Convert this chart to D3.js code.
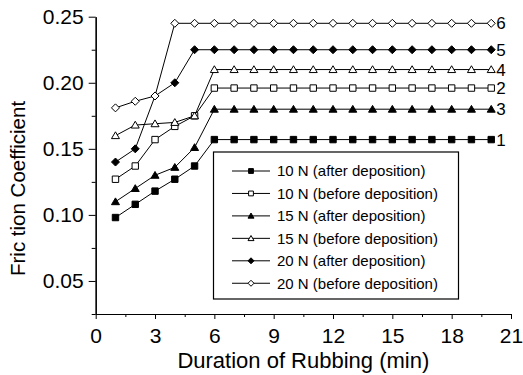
<!DOCTYPE html>
<html>
<head>
<meta charset="utf-8">
<script src="https://cdn.jsdelivr.net/npm/d3@7"></script>
<style>
  html, body { margin: 0; padding: 0; background: #fff; }
  svg { display: block; font-family: "Liberation Sans", Arial, sans-serif; }
</style>
</head>
<body>
<svg id="chart" width="523" height="375"></svg>
<script>
// ---- data ----
const minutes = [1, 2, 3, 4, 5, 6, 7, 8, 9, 10, 11, 12, 13, 14, 15, 16, 17, 18, 19, 20];
const after10N  = [0.098, 0.108, 0.118, 0.127, 0.137, 0.157, 0.157, 0.157, 0.157, 0.157, 0.157, 0.157, 0.157, 0.157, 0.157, 0.157, 0.157, 0.157, 0.157, 0.157];
const before10N = [0.127, 0.137, 0.157, 0.167, 0.175, 0.196, 0.196, 0.196, 0.196, 0.196, 0.196, 0.196, 0.196, 0.196, 0.196, 0.196, 0.196, 0.196, 0.196, 0.196];
const after15N  = [0.110, 0.120, 0.130, 0.136, 0.151, 0.180, 0.180, 0.180, 0.180, 0.180, 0.180, 0.180, 0.180, 0.180, 0.180, 0.180, 0.180, 0.180, 0.180, 0.180];
const before15N = [0.160, 0.168, 0.169, 0.170, 0.175, 0.210, 0.210, 0.210, 0.210, 0.210, 0.210, 0.210, 0.210, 0.210, 0.210, 0.210, 0.210, 0.210, 0.210, 0.210];
const after20N  = [0.140, 0.150, 0.190, 0.200, 0.225, 0.225, 0.225, 0.225, 0.225, 0.225, 0.225, 0.225, 0.225, 0.225, 0.225, 0.225, 0.225, 0.225, 0.225, 0.225];
const before20N = [0.181, 0.186, 0.190, 0.245, 0.245, 0.245, 0.245, 0.245, 0.245, 0.245, 0.245, 0.245, 0.245, 0.245, 0.245, 0.245, 0.245, 0.245, 0.245, 0.245];

const seriesNames = ["10 N (after deposition)", "10 N (before deposition)", "15 N (after deposition)",
                     "15 N (before deposition)", "20 N (after deposition)", "20 N (before deposition)"];
const seriesValues = [after10N, before10N, after15N, before15N, after20N, before20N];
const seriesMarkers = ["square", "square", "triangle", "triangle", "diamond", "diamond"];
const seriesFilled = [true, false, true, false, true, false];
const endLabels = ["1", "2", "3", "4", "5", "6"];

const xMajorTicks = [0, 3, 6, 9, 12, 15, 18, 21];
const xMinorTicks = [1.5, 4.5, 7.5, 10.5, 13.5, 16.5, 19.5];
const yMajorTicks = [0.05, 0.10, 0.15, 0.20, 0.25];
const yMinorTicks = [0.025, 0.075, 0.125, 0.175, 0.225];

const xTitle = "Duration of Rubbing (min)";
const yTitle = "Fric tion Coefficient";

// ---- layout ----
const plotLeft = 95.7, plotRight = 511, plotTop = 16.7, plotBottom = 314;
const svg = d3.select("#chart");

const x = d3.scaleLinear().domain([0, 21]).range([plotLeft, plotRight]);
const y = d3.scaleLinear().domain([0.025, 0.25]).range([plotBottom, plotTop]);

function markerPath(type, s) {
  if (type === "square") {
    const h = 3.2 * s;
    return `M${-h},${-h}H${h}V${h}H${-h}Z`;
  }
  if (type === "triangle") {
    return `M0,${-3.8 * s}L${4 * s},${3 * s}L${-4 * s},${3 * s}Z`;
  }
  const r = 4 * s;
  return `M0,${-r}L${r},0L0,${r}L${-r},0Z`;
}

// ---- axes ----
const fmt = d3.format(".2f");
svg.append("g").attr("transform", `translate(${plotLeft},0)`)
  .call(d3.axisLeft(y).tickValues(yMajorTicks).tickFormat(fmt).tickSize(7).tickPadding(5).tickSizeOuter(0));
svg.append("g").attr("transform", `translate(${plotLeft},0)`)
  .call(d3.axisLeft(y).tickValues(yMinorTicks).tickFormat("").tickSize(4).tickSizeOuter(0));
svg.append("g").attr("transform", `translate(0,${plotBottom})`)
  .call(d3.axisBottom(x).tickValues(xMajorTicks).tickFormat(d3.format("d")).tickSize(5).tickPadding(9).tickSizeOuter(0));
svg.append("g").attr("transform", `translate(0,${plotBottom})`)
  .call(d3.axisBottom(x).tickValues(xMinorTicks).tickFormat("").tickSize(3).tickSizeOuter(0));

svg.selectAll(".domain").attr("stroke", "#000").attr("stroke-width", 1.2);
svg.selectAll(".tick line").attr("stroke", "#000").attr("stroke-width", 1);
svg.selectAll(".tick text").attr("fill", "#000").style("font-size", "21px")
  .style("font-family", "'Liberation Sans', Arial, sans-serif");

svg.append("text")
  .attr("x", (plotLeft + plotRight) / 2).attr("y", 368)
  .attr("text-anchor", "middle").style("font-size", "22px").attr("fill", "#000")
  .text(xTitle);

svg.append("text")
  .attr("transform", "translate(25,276) rotate(-90)")
  .attr("text-anchor", "start").style("font-size", "20.5px").attr("fill", "#000")
  .text(yTitle);

// ---- series ----
const line = d3.line().x((d, i) => x(minutes[i])).y(d => y(d));
seriesValues.forEach((vals, si) => {
  const g = svg.append("g");
  g.append("path").datum(vals).attr("d", line)
    .attr("fill", "none").attr("stroke", "#000").attr("stroke-width", 1);
  g.selectAll("path.m").data(vals).enter().append("path").attr("class", "m")
    .attr("transform", (d, i) => `translate(${x(minutes[i])},${y(d)})`)
    .attr("d", markerPath(seriesMarkers[si], 1))
    .attr("fill", seriesFilled[si] ? "#000" : "#fff")
    .attr("stroke", "#000").attr("stroke-width", 1);
  g.append("text")
    .attr("x", x(minutes[minutes.length - 1]) + 5)
    .attr("y", y(vals[vals.length - 1]))
    .attr("dy", "0.36em").style("font-size", "17px").attr("fill", "#000")
    .text(endLabels[si]);
});

// ---- legend ----
const legX = 213.5, legY = 152, legW = 245, legH = 147;
svg.append("rect").attr("x", legX).attr("y", legY).attr("width", legW).attr("height", legH)
  .attr("fill", "#fff").attr("stroke", "#000").attr("stroke-width", 1.2);
seriesNames.forEach((name, si) => {
  const ry = 171 + si * 22.45;
  svg.append("line").attr("x1", 232).attr("x2", 270).attr("y1", ry).attr("y2", ry)
    .attr("stroke", "#000").attr("stroke-width", 1);
  svg.append("path").attr("transform", `translate(251,${ry})`)
    .attr("d", markerPath(seriesMarkers[si], 0.75))
    .attr("fill", seriesFilled[si] ? "#000" : "#fff")
    .attr("stroke", "#000").attr("stroke-width", 1);
  svg.append("text").attr("x", 277).attr("y", ry).attr("dy", "0.35em")
    .style("font-size", "15px").attr("fill", "#000").text(name);
});
</script>
</body>
</html>
